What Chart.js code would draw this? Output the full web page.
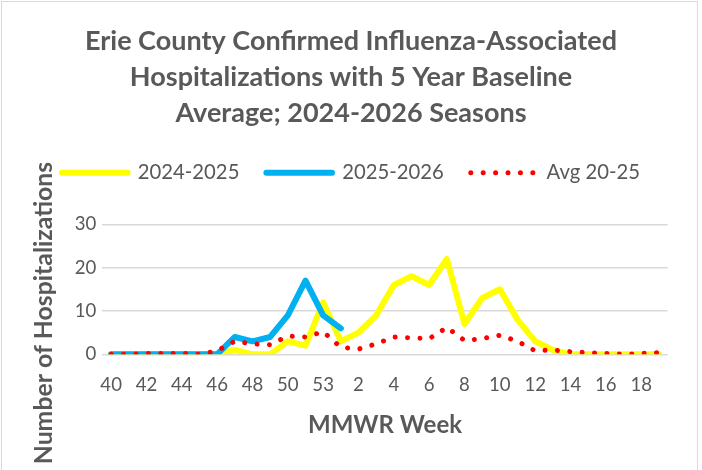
<!DOCTYPE html>
<html>
<head>
<meta charset="utf-8">
<script src="https://cdn.jsdelivr.net/npm/chart.js@4.4.1/dist/chart.umd.min.js"></script>
<style>
  html, body { margin: 0; padding: 0; background: #fff; }
  #wrap { width: 702px; height: 470px; }
</style>
</head>
<body>
<div id="wrap"><canvas id="chart" width="702" height="470"></canvas></div>
<script>
/* ===== DATA ===== */
const WEEKS = ['40', '41', '42', '43', '44', '45', '46', '47', '48', '49', '50', '51', '53',
  '1', '2', '3', '4', '5', '6', '7', '8', '9', '10', '11', '12', '13', '14', '15', '16', '17', '18', '19'];

const SEASON_2425 = [0, 0, 0, 0, 0, 0, 0, 1, 0, 0, 3, 2, 12,
  3, 5, 9, 16, 18, 16, 22, 7, 13, 15, 8, 3, 1, 0, 0, 0, 0, 0, 0];

const SEASON_2526 = [0, 0, 0, 0, 0, 0, 0, 4, 3, 4, 9, 17, 9, 6];

const AVG_20_25 = [0, 0, 0.2, 0.2, 0.2, 0, 0.8, 3, 2.4, 2.2, 4.2, 4, 5.2,
  1.6, 1.2, 2.4, 4, 3.8, 3.6, 6.2, 3.2, 3.6, 4.4, 3, 0.8, 1, 0.6, 0.4, 0.2, 0, 0.2, 0.4];

const Y_TICKS = [0, 10, 20, 30];

const TITLE_LINES = [
  'Erie County Confirmed Influenza-Associated',
  'Hospitalizations with 5 Year Baseline',
  'Average; 2024-2026 Seasons',
];

/* ===== STYLE ===== */
const TEXT = '#595959';
const GRID = '#d9d9d9';
const FONT = 'Lato';

Chart.defaults.font.family = FONT;
Chart.defaults.color = TEXT;

// white background + thin frame like the Excel chart object
const framePlugin = {
  id: 'frame',
  beforeDraw(chart) {
    const { ctx, width, height } = chart;
    ctx.save();
    ctx.fillStyle = '#fff';
    ctx.fillRect(0, 0, width, height);
    ctx.strokeStyle = GRID;
    ctx.lineWidth = 1;
    ctx.strokeRect(1.5, 1.5, width - 6, height + 10);
    ctx.restore();
  },
};

// vertical axis title, centred like the original (not on the plot area)
const yTitlePlugin = {
  id: 'yTitle',
  afterDraw(chart) {
    const { ctx } = chart;
    ctx.save();
    ctx.translate(44, 313);
    ctx.rotate(-Math.PI / 2);
    ctx.font = `bold 24.8px ${FONT}`;
    ctx.fillStyle = TEXT;
    ctx.textAlign = 'center';
    ctx.textBaseline = 'middle';
    ctx.fillText('Number of Hospitalizations', 0, 0);
    ctx.restore();
  },
};

const datasets = [
  {
    label: '2024-2025',
    data: SEASON_2425,
    borderColor: '#ffff00',
    borderWidth: 6,
    order: 3,
  },
  {
    label: '2025-2026',
    data: SEASON_2526,
    borderColor: '#00b0f0',
    borderWidth: 6,
    order: 2,
  },
  {
    label: 'Avg 20-25',
    data: AVG_20_25,
    borderColor: '#ff0000',
    borderWidth: 5,
    borderDash: [0.01, 12.4],
    order: 1,
  },
];
datasets.forEach(d => {
  d.pointRadius = 0;
  d.tension = 0;
  d.fill = false;
  d.borderCapStyle = 'round';
  d.borderJoinStyle = 'round';
  d.backgroundColor = d.borderColor;
});

new Chart(document.getElementById('chart'), {
  type: 'line',
  data: { labels: WEEKS, datasets },
  plugins: [framePlugin, yTitlePlugin],
  options: {
    responsive: false,
    animation: false,
    layout: { padding: { left: 34.3, right: 34.3, top: 0, bottom: 0 } },
    plugins: {
      tooltip: { enabled: false },
      title: {
        display: true,
        text: TITLE_LINES,
        color: TEXT,
        font: { size: 27, weight: 'bold', lineHeight: 1.326 },
        padding: { top: 23.8, bottom: 4.5 },
      },
      legend: {
        display: true,
        position: 'top',
        labels: {
          usePointStyle: true,
          pointStyleWidth: 65.6,
          color: TEXT,
          font: { size: 20.3 },
          padding: 27,
          generateLabels(chart) {
            return chart.data.datasets.map((d, i) => ({
              text: d.label,
              datasetIndex: i,
              pointStyle: 'line',
              strokeStyle: d.borderColor,
              fillStyle: d.borderColor,
              lineWidth: d.borderWidth,
              lineCap: 'round',
              lineDash: d.borderDash || [],
              fontColor: TEXT,
              hidden: false,
            }));
          },
        },
      },
      // empty box used as a gap between legend and plot
      subtitle: {
        display: true,
        text: [],
        weight: 500,
        padding: { top: 31.3, bottom: 0 },
      },
    },
    scales: {
      x: {
        offset: true,
        afterFit(scale) {
          scale.height = 115.7;
        },
        grid: { display: false, drawTicks: false },
        border: { display: false },
        ticks: {
          autoSkip: false,
          maxRotation: 0,
          padding: 20,
          color: TEXT,
          font: { size: 18.6 },
          callback(value, index) {
            return index % 2 === 0 ? WEEKS[index] : '';
          },
        },
        title: {
          display: true,
          text: 'MMWR Week',
          color: TEXT,
          font: { size: 24, weight: 'bold', lineHeight: 1.1 },
          padding: { top: 16, bottom: 32 },
        },
      },
      y: {
        min: Y_TICKS[0],
        max: Y_TICKS[Y_TICKS.length - 1],
        afterBuildTicks(scale) {
          scale.ticks = Y_TICKS.map(v => ({ value: v }));
        },
        afterFit(scale) {
          scale.width = 68;
        },
        grid: { color: GRID, lineWidth: 1.5, drawTicks: false },
        border: { display: false },
        ticks: {
          padding: 6,
          color: TEXT,
          font: { size: 18.6 },
        },
      },
    },
  },
});
</script>
</body>
</html>
